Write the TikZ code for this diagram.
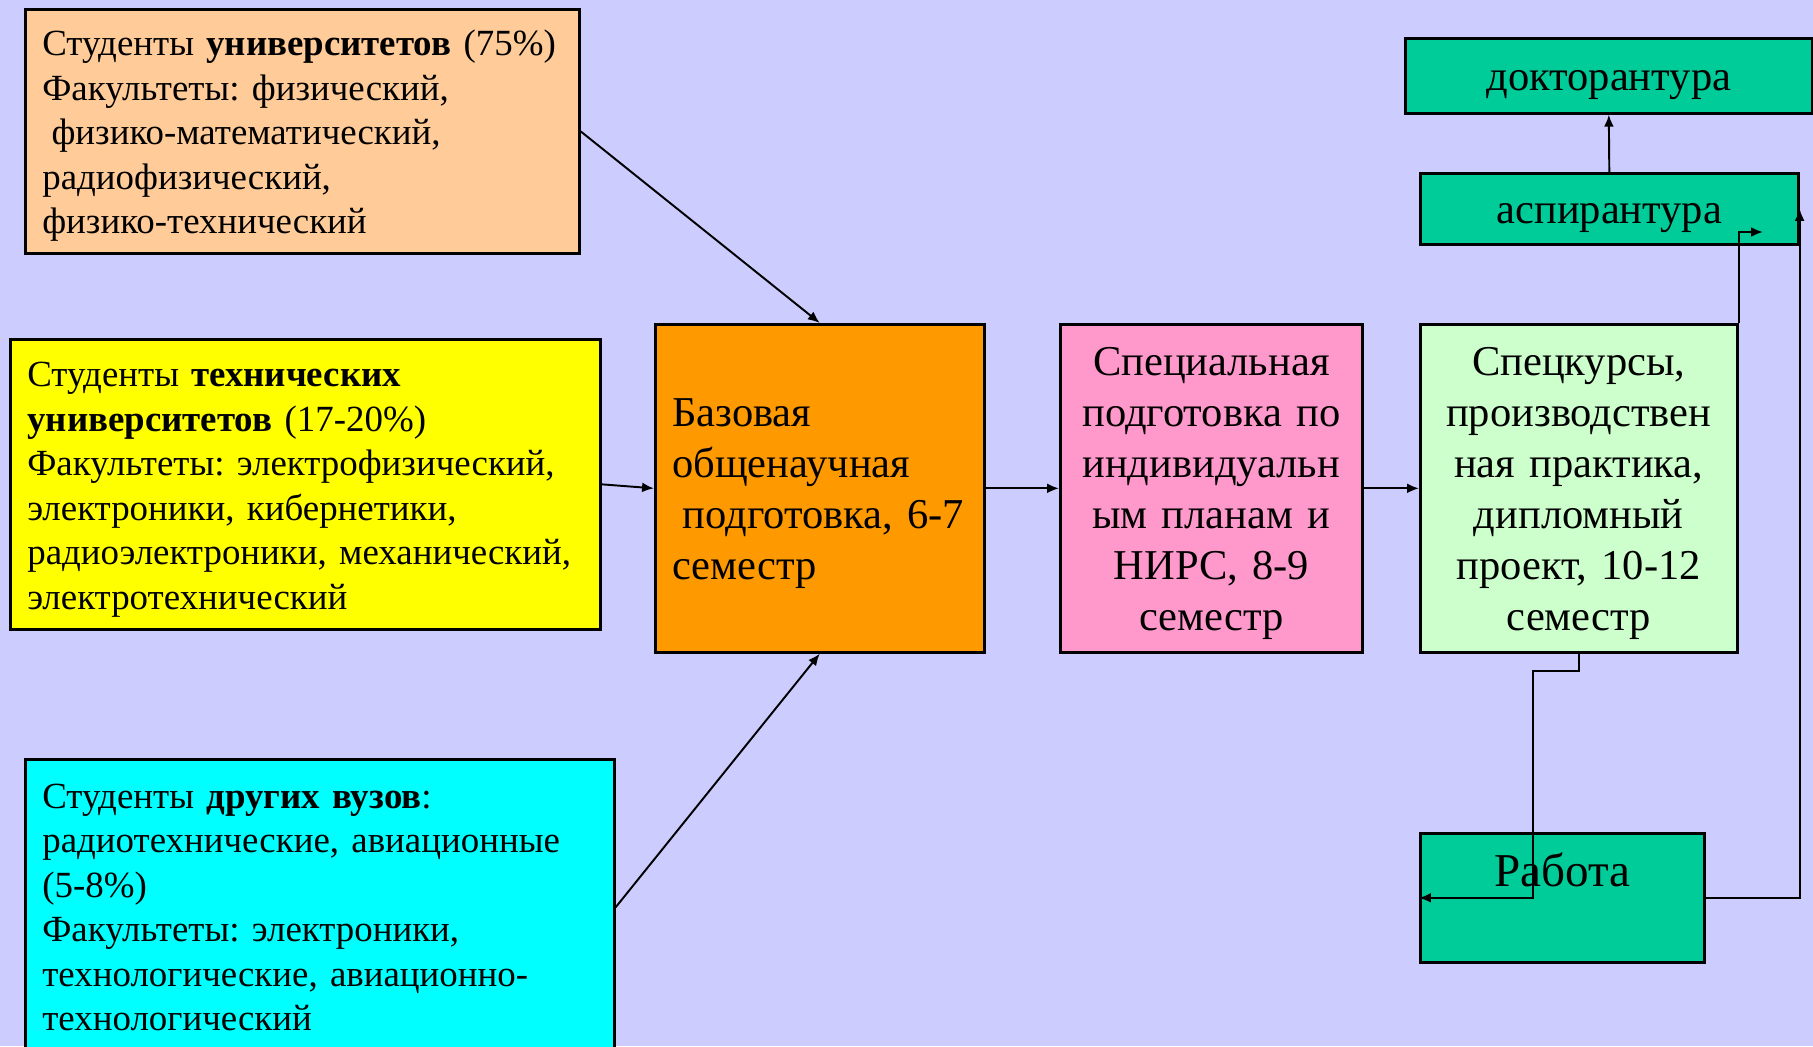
\documentclass[tikz,border=0pt]{standalone}
\usepackage{fontspec}
\setmainfont{Liberation Serif}
\frenchspacing
\usetikzlibrary{arrows.meta}
\definecolor{bgcol}{HTML}{CCCCFF}
\definecolor{peach}{HTML}{FFCC99}
\definecolor{lemon}{HTML}{FFFF00}
\definecolor{aqua}{HTML}{00FFFF}
\definecolor{amber}{HTML}{FF9900}
\definecolor{rose}{HTML}{FF99CC}
\definecolor{mint}{HTML}{CCFFCC}
\definecolor{teal}{HTML}{00CC99}
\begin{document}
\begin{tikzpicture}[x=0.1mm,y=-0.1mm,
    box/.style={draw=black, line width=0.75pt, rectangle, anchor=north west, inner ysep=0pt},
    lowered/.style={execute at begin node={\rule{0pt}{\dimexpr0.7em+2.6pt\relax}}},
    small/.style={font=\fontsize{10.5pt}{12.66pt}\selectfont, align=left, inner xsep=1.7mm},
    big/.style={font=\fontsize{12.1pt}{14.5pt}\selectfont},
    link/.style={draw=black, line width=0.55pt, -{Latex[length=3.4pt,width=2.8pt]}}]
    \fill[bgcol] (0,0) rectangle (1813,1046);
    \useasboundingbox (0,0) rectangle (1813,1046);
    \node[box, small, lowered, fill=peach, minimum width=55.4mm, minimum height=24.4mm, text width=52mm] at (24,8) (univ) {Студенты \textbf{университетов} (75\%)\\Факультеты: физический,\\\hspace*{0.25em}физико-математический,\\радиофизический,\\физико-технический};
    \node[box, small, lowered, fill=lemon, minimum width=59mm, minimum height=29mm, text width=55.6mm] at (9,338) (tech) {Студенты \textbf{технических}\\\textbf{университетов} (17-20\%)\\Факультеты: электрофизический,\\электроники, кибернетики,\\радиоэлектроники, механический,\\электротехнический};
    \node[box, small, fill=aqua, minimum width=58.9mm, minimum height=29.6mm, text width=55.5mm] at (24,758) (other) {Студенты \textbf{других вузов}:\\радиотехнические, авиационные\\(5-8\%)\\Факультеты: электроники,\\технологические, авиационно-\\технологический};
    \node[box, big, lowered, fill=amber, align=left, inner xsep=1.7mm, minimum width=32.9mm, minimum height=32.8mm, text width=29.5mm] at (654,323) (base) {Базовая\\общенаучная\\\hspace*{0.25em}подготовка, 6-7\\семестр};
    \node[box, big, lowered, fill=rose, align=center, inner xsep=0.5mm, minimum width=30.2mm, minimum height=32.8mm, text width=29.2mm] at (1059,323) (nirs) {Специальная\\подготовка по\\индивидуальн\\ым планам и\\НИРС, 8-9\\семестр};
    \node[box, big, lowered, fill=mint, align=center, inner xsep=0.5mm, minimum width=31.7mm, minimum height=32.8mm, text width=30.7mm] at (1419,323) (prac) {Спецкурсы,\\производствен\\ная практика,\\дипломный\\проект, 10-12\\семестр};
    \node[box, big, fill=teal, inner xsep=0pt, minimum width=40.7mm, minimum height=7.5mm, text height=2.85mm, text depth=0mm] at (1404,37) (dokt) {докторантура};
    \node[box, big, fill=teal, inner xsep=0pt, minimum width=37.8mm, minimum height=7.1mm, text height=2.9mm, text depth=0mm] at (1419,172) (asp) {аспирантура};
    \node[box, fill=teal, font=\fontsize{13.4pt}{15pt}\selectfont, inner xsep=0pt, minimum width=28.4mm, text height=5.3mm, text depth=7.6mm] at (1419,832) (rab) {Работа};
    \coordinate (aspin) at (1763,232);
    \coordinate (turn) at (1533,671);
    \draw[link] (univ.east) -- (base.north);
    \draw[link] (tech.east) -- (base.west);
    \draw[link] (other.east) -- (base.south);
    \draw[link] (base.east) -- (nirs.west);
    \draw[link] (nirs.east) -- (prac.west);
    \draw[link] (asp.north) -- (dokt.south);
    \draw[link] (prac.north east) |- (aspin);
    \draw[link] (prac.south) |- (turn) |- (rab.west);
    \draw[link] (rab.east) -| (asp.east);
\end{tikzpicture}
\end{document}
